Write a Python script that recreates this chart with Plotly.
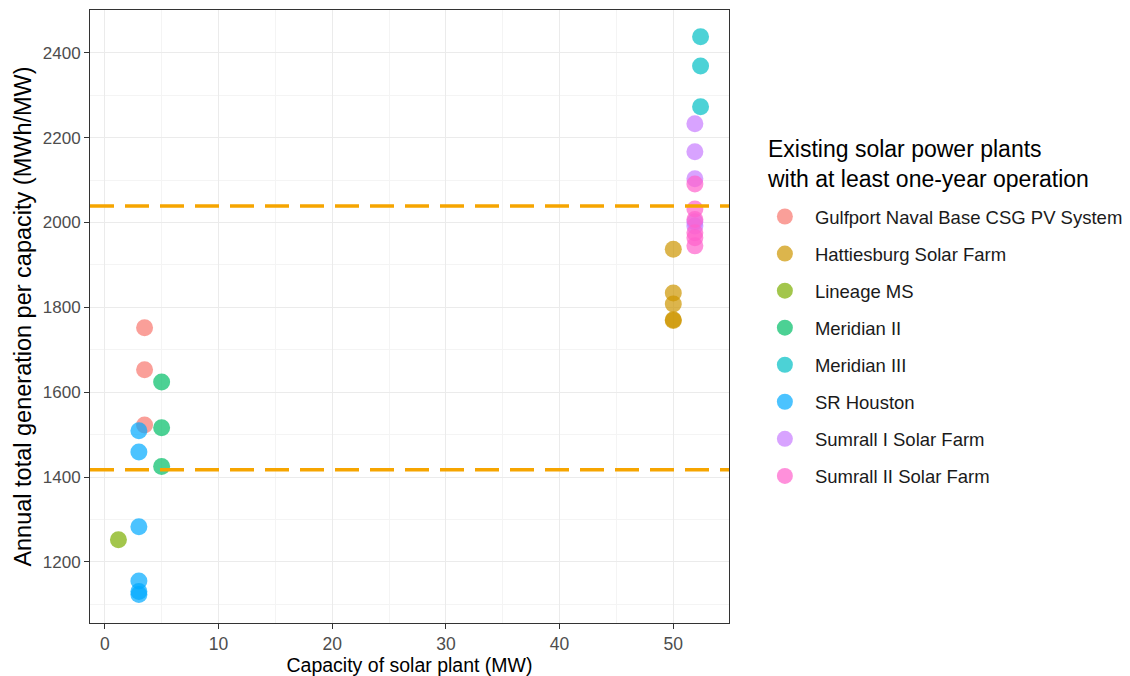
import plotly.graph_objects as go

plants = ["Gulfport Naval Base CSG PV System", "Hattiesburg Solar Farm", "Lineage MS",
          "Meridian II", "Meridian III", "SR Houston", "Sumrall I Solar Farm", "Sumrall II Solar Farm"]
colors = ["#F8766D", "#CD9600", "#7CAE00", "#00BE67", "#00BFC4", "#00A9FF", "#C77CFF", "#FF61CC"]

capacity = {
    "Gulfport Naval Base CSG PV System": 3.5,
    "Hattiesburg Solar Farm": 50.0,
    "Lineage MS": 1.2,
    "Meridian II": 5.0,
    "Meridian III": 52.4,
    "SR Houston": 3.0,
    "Sumrall I Solar Farm": 51.9,
    "Sumrall II Solar Farm": 51.9,
}
gulfport = [1752, 1653, 1523]
hattiesburg = [1937, 1834, 1808, 1771, 1769]
lineage = [1252]
meridian2 = [1624, 1516, 1425]
meridian3 = [2438, 2369, 2273]
sr_houston = [1509, 1459, 1283, 1155, 1130, 1123]
sumrall1 = [2233, 2167, 2103, 2002, 1992]
sumrall2 = [2091, 2032, 2007, 1976, 1964, 1945]
values = [gulfport, hattiesburg, lineage, meridian2, meridian3, sr_houston, sumrall1, sumrall2]

thresholds = [2039, 1417]
legend_title = "Existing solar power plants<br>with at least one-year operation"

fig = go.Figure()
for name, col, vals in zip(plants, colors, values):
    fig.add_trace(go.Scatter(
        x=[capacity[name]] * len(vals), y=vals, mode="markers", name=name,
        legendgroup=name,
        marker=dict(color=col, size=17, opacity=0.7, line=dict(width=0)),
    ))

for t in thresholds:
    fig.add_hline(y=t, line=dict(color="#F6A500", width=3.5, dash="24px,11px"), layer="above")

axis_common = dict(
    showline=True, linecolor="#333333", linewidth=1, mirror=True,
    ticks="outside", ticklen=5, tickcolor="#333333", tickwidth=1,
    gridcolor="#EBEBEB", gridwidth=1.2, zeroline=False,
)

fig.update_xaxes(
    range=[-1.3, 54.9], dtick=10, tick0=0,
    title_text="Capacity of solar plant (MW)", title_standoff=5,
    title_font=dict(family="Liberation Sans, Arial", size=19.5, color="#000000"),
    tickfont=dict(family="Liberation Sans, Arial", size=17.5, color="#4D4D4D"),
    minor=dict(dtick=5, tick0=0, showgrid=True, gridcolor="#F4F4F4", gridwidth=1, ticks=""),
    **axis_common,
)
fig.update_yaxes(
    range=[1056, 2501], dtick=200, tick0=0,
    title_text="Annual total generation per capacity (MWh/MW)", title_standoff=4,
    title_font=dict(family="Liberation Sans, Arial", size=23.5, color="#000000"),
    tickfont=dict(family="Liberation Sans, Arial", size=17, color="#4D4D4D"),
    minor=dict(dtick=100, tick0=0, showgrid=True, gridcolor="#F4F4F4", gridwidth=1, ticks=""),
    **axis_common,
)

# legend title drawn as an annotation so its spacing to the items matches
fig.add_annotation(
    text=legend_title, xref="paper", yref="paper",
    x=(768 - 90) / 642, y=(623 - 163.5) / 613, xanchor="left", yanchor="middle",
    align="left", showarrow=False,
    font=dict(family="Liberation Sans, Arial", size=23, color="#000000"),
)

fig.update_layout(
    width=1122, height=668,
    margin=dict(l=82, r=398, t=2, b=53),
    plot_bgcolor="white", paper_bgcolor="white",
    font=dict(family="Liberation Sans, Arial", color="#000000"),
    legend=dict(
        font=dict(size=18.5, color="#1A1A1A"),
        x=(758 - 90) / 642, xanchor="left", y=(623 - 198) / 613, yanchor="top",
        tracegroupgap=10, itemsizing="trace", itemwidth=50,
        bgcolor="rgba(0,0,0,0)",
    ),
    showlegend=True,
)

fig.write_html("out.html")
